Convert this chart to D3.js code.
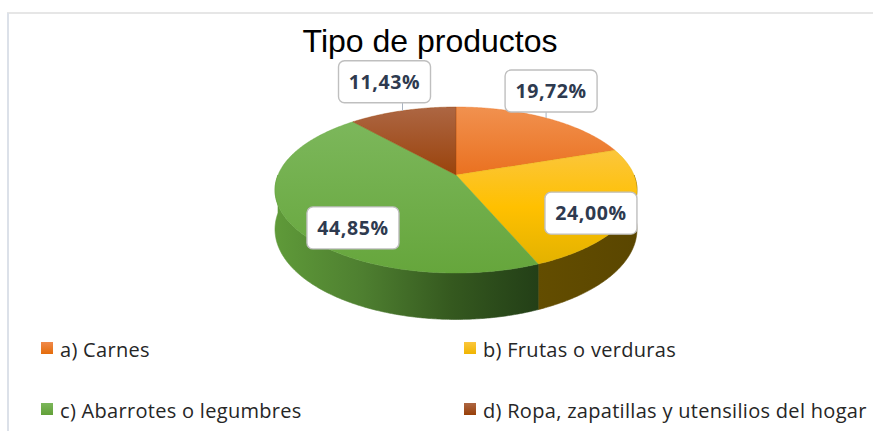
<!DOCTYPE html>
<html>
<head>
<meta charset="utf-8">
<script src="https://cdn.jsdelivr.net/npm/d3@7/dist/d3.min.js"></script>
<style>
  html, body { margin: 0; padding: 0; background: #fff; }
  svg { display: block; }
</style>
</head>
<body>
<svg id="chart" width="873" height="431"></svg>
<script>
// ---- data ----
const title = "Tipo de productos";
const categories = [
  "a) Carnes",
  "b) Frutas o verduras",
  "c) Abarrotes o legumbres",
  "d) Ropa, zapatillas y utensilios del hogar"
];
const values = [19.72, 24.00, 44.85, 11.43];

// ---- styles ----
const topColors = [
  ["#F1914F", "#EA7120"],
  ["#FBC63C", "#FFC000", "#E3B200"],
  ["#7CB75B", "#66A63C"],
  ["#AD6643", "#9A430B"]
];
const wallColors = [
  ["#B5561A", "#8A3E0D"],
  ["#634D00", "#5A4600"],
  ["#5F9A39", "#4E7F30", "#35591F", "#233F17"],
  ["#7A3608", "#5E2806"]
];
const legendColors = [
  ["#F08A4B", "#E46C0A"],
  ["#FBC63C", "#F0B400"],
  ["#7CB75B", "#62A038"],
  ["#AD6643", "#983F08"]
];

const W = 873, H = 431;
const svg = d3.select("#chart");
const defs = svg.append("defs");

// ---- projection of the tilted, perspective pie ----
const P = { cx: 456, cy: 175, A: 80.3, B: 178, k: 0.181, depth: 38 };
function proj(theta, r, h) {
  const b = r * Math.cos(theta), s = r * Math.sin(theta);
  const den = 1 + P.k * b;
  return [P.cx + P.B * s / den, P.cy - P.A * b / den + h / den];
}
function sample(a0, a1, r, h) {
  const n = Math.max(2, Math.ceil(Math.abs(a1 - a0) / 0.01));
  return d3.range(n + 1).map(i => proj(a0 + (a1 - a0) * i / n, r, h));
}

const arcs = d3.pie().sort(null).value(d => d)(values);
const line = d3.line();

// gradients
function vgrad(id, cols) {
  const g = defs.append("linearGradient").attr("id", id)
    .attr("x1", 0).attr("y1", 0).attr("x2", 0).attr("y2", 1);
  cols.forEach((c, i) => g.append("stop")
    .attr("offset", cols.length === 1 ? 0 : i / (cols.length - 1)).attr("stop-color", c));
}
function hgrad(id, cols) {
  const g = defs.append("linearGradient").attr("id", id)
    .attr("x1", 0).attr("y1", 0).attr("x2", 1).attr("y2", 0);
  cols.forEach((c, i) => g.append("stop")
    .attr("offset", i / (cols.length - 1)).attr("stop-color", c));
}
topColors.forEach((c, i) => vgrad("top" + i, c));
wallColors.forEach((c, i) => hgrad("wall" + i, c));
legendColors.forEach((c, i) => vgrad("leg" + i, c));

// ---- frame lines ----
svg.append("line").attr("x1", 7).attr("y1", 13).attr("x2", W).attr("y2", 13)
  .attr("stroke", "#DEDEDE").attr("stroke-width", 1.5);
svg.append("line").attr("x1", 8).attr("y1", 13).attr("x2", 8).attr("y2", H)
  .attr("stroke", "#DCE1E9").attr("stroke-width", 2);

// ---- title ----
svg.append("text").attr("x", 430).attr("y", 52)
  .attr("text-anchor", "middle")
  .style("font-family", "'Liberation Sans', Arial, sans-serif")
  .style("font-size", "32px").attr("fill", "#000")
  .text(title);

// ---- walls (front rim) ----
const pieG = svg.append("g");
arcs.forEach((a, i) => {
  const a0 = Math.max(a.startAngle, Math.PI / 2), a1 = Math.min(a.endAngle, 3 * Math.PI / 2);
  if (a0 >= a1) return;
  const topEdge = sample(a0, a1, 1, 0);
  const botEdge = sample(a1, a0, 1, P.depth);
  const pts = topEdge.concat(botEdge);
  pieG.append("path")
    .attr("d", line(pts) + "Z")
    .attr("fill", "url(#wall" + i + ")")
    .attr("stroke", "url(#wall" + i + ")").attr("stroke-width", 0.6);
});

// ---- top faces ----
arcs.forEach((a, i) => {
  const pts = [proj(0, 0, 0)].concat(sample(a.startAngle, a.endAngle, 1, 0));
  pieG.append("path")
    .attr("d", line(pts) + "Z")
    .attr("fill", "url(#top" + i + ")")
    .attr("stroke", topColors[i][topColors[i].length - 1]).attr("stroke-width", 0.4);
});

// ---- data labels ----
const locale = d3.formatLocale({ decimal: ",", thousands: ".", grouping: [3], currency: ["", ""] });
const fmt = locale.format(".2f");
const labelLayout = [
  { r: 1, dx: 5, dy: -27, leader: true },
  { r: 0.75, dx: 6, dy: 12, leader: false },
  { r: 0.64, dx: 0, dy: 24, leader: false },
  { r: 1, dx: -18, dy: -29, leader: true }
];
const boxW = 92, boxH = 42;
arcs.forEach((a, i) => {
  const mid = (a.startAngle + a.endAngle) / 2;
  const L = labelLayout[i];
  const anchor = proj(mid, L.r, 0);
  const cxl = anchor[0] + L.dx, cyl = anchor[1] + L.dy;
  if (L.leader) {
    svg.append("line")
      .attr("x1", anchor[0]).attr("y1", anchor[1])
      .attr("x2", anchor[0]).attr("y2", cyl + boxH / 2)
      .attr("stroke", "#A9B3C0").attr("stroke-width", 1);
  }
  svg.append("rect")
    .attr("x", cxl - boxW / 2).attr("y", cyl - boxH / 2)
    .attr("width", boxW).attr("height", boxH)
    .attr("rx", 6).attr("ry", 6)
    .attr("fill", "#fff").attr("stroke", "#BFBFBF").attr("stroke-width", 1.4);
  svg.append("text")
    .attr("x", cxl).attr("y", cyl + 7)
    .attr("text-anchor", "middle")
    .style("font-family", "'Open Sans', sans-serif")
    .style("font-weight", "700").style("font-size", "19.5px")
    .style("letter-spacing", "0.6px")
    .attr("fill", "#2E3A4F")
    .text(fmt(a.data) + "%");
});

// ---- legend ----
const legX = [41, 464], legY = [342, 403];
categories.forEach((c, i) => {
  const col = i % 2, row = Math.floor(i / 2);
  const g = svg.append("g").attr("transform", `translate(${legX[col]},${legY[row]})`);
  g.append("rect").attr("x", 0).attr("y", 0).attr("width", 12).attr("height", 12)
    .attr("fill", "url(#leg" + i + ")");
  g.append("text").attr("x", 19).attr("y", 14.5)
    .style("font-family", "'Open Sans', sans-serif")
    .style("font-size", "20px")
    .style("letter-spacing", "0.3px")
    .attr("fill", "#262626")
    .text(c);
});
</script>
</body>
</html>
